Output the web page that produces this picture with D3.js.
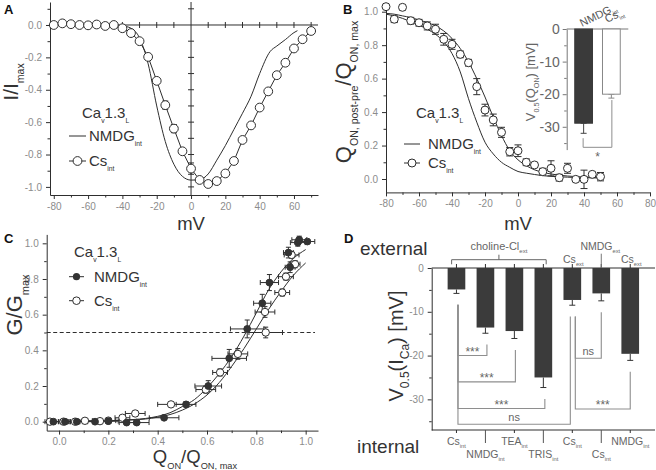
<!DOCTYPE html>
<html>
<head>
<meta charset="utf-8">
<script src="https://cdn.jsdelivr.net/npm/d3@7"></script>
<style>
  body { margin: 0; background: #fff; }
</style>
</head>
<body>
<div id="chart"></div>
<script>
// ---------------- data ----------------
// A: normalised I-V, Cs internal (circles) and NMDG internal (fit line)
const aVolt = [-80,-75,-70,-65,-60,-55,-50,-45,-40,-35,-30,-25,-20,-15,-10,-5,0,5,10,15,20,25,30,35,40,45,50,55,60,65,70];
const aCs = [0.0,0.01,0.005,0.0,-0.002,0.003,-0.006,0.0,-0.02,-0.05,-0.10,-0.197,-0.345,-0.495,-0.64,-0.78,-0.887,-0.957,-0.982,-0.964,-0.917,-0.84,-0.71,-0.62,-0.51,-0.41,-0.31,-0.233,-0.145,-0.088,-0.037];
const aCsErr = [0,0,0,0,0,0,0,0,0,0.005,0.01,0.01,0.015,0.025,0.025,0.015,0.035,0.012,0.01,0.01,0.008,0.008,0.01,0.01,0.01,0.01,0.008,0.008,0.008,0.006,0.006];
const aFitV = [-82,-45,-40,-35,-30,-25,-20,-15,-10,-5,0,5,10,15,20,25,30,35,40,46,50,55,60,62];
const aFitNmdg = [0,0,-0.005,-0.02,-0.08,-0.24,-0.50,-0.72,-0.86,-0.935,-0.958,-0.955,-0.92,-0.835,-0.745,-0.645,-0.545,-0.44,-0.30,-0.165,-0.13,-0.09,-0.047,-0.035];
const aXTicks = [-80,-60,-40,-20,0,20,40,60];
const aXMinor = [-70,-50,-30,-10,10,30,50,70];
const aYTicks = [-1.0,-0.8,-0.6,-0.4,-0.2,0.0];
const aYMinor = [-0.9,-0.7,-0.5,-0.3,-0.1,0.1];

// B: charge-voltage, Cs internal data + two fits; inset V0.5(Q_ON)
const bVolt = [-80,-75,-70,-65,-60,-55,-50,-45,-40,-35,-30,-25,-20,-15,-10,-5,0,5,10,15,20,25,30,35,40,45,50];
const bCs = [1.03,0.955,1.026,0.946,0.934,0.915,0.895,0.835,0.805,0.745,0.695,0.552,0.412,0.353,0.279,0.163,0.169,0.10,0.084,0.044,0.064,0.008,0.064,-0.002,-0.002,0.028,0.014];
const bCsErr = [0.01,0.02,0.015,0.02,0.02,0.024,0.03,0.035,0.03,0.02,0.02,0.048,0.035,0.035,0.03,0.025,0.035,0.02,0.015,0.02,0.045,0.02,0.03,0.01,0.055,0.01,0.025];
const bFitV = [-80,-75,-70,-65,-60,-55,-50,-45,-40,-35,-30,-25,-20,-15,-10,-5,0,5,10,15,20,30,40,50];
const bFitNmdg = [0.985,0.975,0.96,0.94,0.92,0.895,0.865,0.82,0.75,0.64,0.48,0.34,0.22,0.15,0.10,0.07,0.045,0.035,0.027,0.02,0.016,0.011,0.008,0.006];
const bFitCs = [0.99,0.985,0.975,0.965,0.95,0.935,0.915,0.885,0.84,0.78,0.70,0.60,0.49,0.37,0.26,0.17,0.115,0.08,0.055,0.04,0.03,0.018,0.012,0.009];
const bXTicks = [-80,-60,-40,-20,0,20,40,60,80];
const bXMinor = [-70,-50,-30,-10,10,30,50,70];
const bYTicks = [0.0,0.2,0.4,0.6,0.8,1.0];
const bYMinor = [0.1,0.3,0.5,0.7,0.9];
const insetCats = ["NMDG","Cs"];
const insetV = [-28.9,-20.0];
const insetErr = [3.1,1.2];
const insetTicks = [-30,-20,-10,0];
const insetMinor = [-35,-25,-15,-5];

// C: G/Gmax vs Q_ON/Q_ON,max
const cNmdgQ = [-0.023,0.024,0.072,0.146,0.20,0.274,0.315,0.426,0.515,0.605,0.69,0.763,0.824,0.853,0.93,0.937,0.968,0.974,1.007];
const cNmdgG = [0.0,0.0,0.0,0.0,0.003,-0.005,-0.005,0.022,0.097,0.20,0.355,0.52,0.664,0.78,0.948,0.866,1.004,1.02,1.01];
const cNmdgQErr = [0.02,0.02,0.025,0.03,0.04,0.03,0.05,0.06,0.04,0.054,0.07,0.068,0.035,0.037,0.02,0.02,0.03,0.03,0.03];
const cNmdgGErr = [0.005,0.005,0.005,0.005,0.005,0.005,0.005,0.01,0.015,0.03,0.05,0.05,0.05,0.045,0.03,0.03,0.02,0.02,0.01];
const cCsQ = [-0.037,0.018,0.065,0.105,0.166,0.20,0.257,0.309,0.454,0.595,0.653,0.725,0.838,0.835,0.905,0.92,0.957,0.943];
const cCsG = [0.0,0.0,0.0,0.005,0.003,0.006,0.022,0.046,0.097,0.18,0.276,0.38,0.50,0.615,0.724,0.813,0.883,0.935];
const cCsQErr = [0.02,0.02,0.02,0.03,0.03,0.03,0.03,0.04,0.054,0.04,0.03,0.04,0.068,0.04,0.03,0.03,0.02,0.03];
const cCsGErr = [0.005,0.005,0.005,0.005,0.005,0.005,0.01,0.01,0.01,0.02,0.02,0.03,0.03,0.03,0.02,0.02,0.02,0.02];
const cFitQ = [-0.03,0.1,0.2,0.3,0.35,0.4,0.45,0.5,0.55,0.6,0.65,0.7,0.75,0.8,0.85,0.9,0.95,1.0];
const cFitNmdg = [0,0.002,0.005,0.012,0.018,0.03,0.05,0.085,0.125,0.19,0.27,0.365,0.48,0.61,0.74,0.84,0.915,0.965];
const cFitCs = [0,0.002,0.004,0.01,0.015,0.025,0.04,0.065,0.10,0.15,0.22,0.31,0.41,0.52,0.63,0.73,0.82,0.89];
const cTicks = [0.0,0.2,0.4,0.6,0.8,1.0];
const cMinor = [0.1,0.3,0.5,0.7,0.9];
const cHalf = 0.5;

// D: V0.5(I_Ca) for external / internal solutions
const dExternal = ["choline-Cl","choline-Cl","choline-Cl","choline-Cl","Cs","NMDG","Cs"];
const dInternal = ["Cs","NMDG","TEA","TRIS","Cs","Cs","NMDG"];
const dV = [-4.9,-13.6,-14.4,-25.0,-7.3,-5.8,-19.6];
const dErr = [0.9,1.3,1.7,2.3,1.2,1.7,1.5];
const dSigFrom = [0,0,0,0,4,4];
const dSigTo = [1,2,3,4,5,6];
const dSigLevel = [-20.0,-26.0,-32.1,-35.7,-20.6,-32.2];
const dSigText = ["***","***","***","ns","ns","***"];
const dTicks = [-30,-20,-10,0];
const dMinor = [-35,-25,-15,-5];

// ---------------- setup ----------------
const W = 656, H = 470;
const FONT = "'Liberation Sans', Arial, sans-serif";
const INK = "#2e2e2e", TICKTXT = "#8c8c8c", LABEL = "#333", SIG = "#8e8e8e";

const svg = d3.select("#chart").append("svg")
  .attr("width", W).attr("height", H)
  .attr("font-family", FONT);
svg.append("rect").attr("width", W).attr("height", H).attr("fill", "#fff");

const fmt1 = d => d3.format(".1f")(d).replace("\u2212", "-");
const fmt0 = d => String(d);

function axis(g, orient, scale, majors, minors, fmt, tx, ty, o = {}) {
  const mk = orient === "left" ? d3.axisLeft : d3.axisBottom;
  const a = g.append("g").attr("transform", `translate(${tx},${ty})`)
    .call(mk(scale).tickValues(majors).tickSize(o.size || 4).tickSizeOuter(0)
      .tickPadding(o.pad || 4).tickFormat(fmt));
  a.attr("font-family", FONT).attr("font-size", o.fs || 10);
  a.selectAll("text").attr("fill", o.color || TICKTXT);
  a.selectAll("line,path").attr("stroke", o.stroke || INK);
  if (minors) {
    const m = g.append("g").attr("transform", `translate(${tx},${ty})`)
      .call(mk(scale).tickValues(minors).tickSize(o.minor || 2.5).tickFormat(""));
    m.select(".domain").remove();
    m.selectAll("line").attr("stroke", o.stroke || INK);
  }
  return a;
}

// text with subscripts: parts are strings or [sub] arrays
function rich(parent, parts, size, o = {}) {
  const t = parent.append("text")
    .attr("x", o.x || 0).attr("y", o.y || 0)
    .attr("font-size", size)
    .attr("fill", o.fill || LABEL)
    .attr("text-anchor", o.anchor || "start");
  if (o.transform) t.attr("transform", o.transform);
  const ss = o.sub || 0.5;
  let cur = 0;
  parts.forEach(p => {
    const isSub = Array.isArray(p);
    const off = isSub ? size * 0.3 : 0;
    t.append("tspan").attr("dy", off - cur)
      .attr("font-size", isSub ? size * ss : size)
      .text(isSub ? p[0] : p);
    cur = off;
  });
  return t;
}

function vErr(g, x, y1, y2, cap, color) {
  g.append("line").attr("x1", x).attr("x2", x).attr("y1", y1).attr("y2", y2)
    .attr("stroke", color || INK);
  [y1, y2].forEach(y => g.append("line").attr("x1", x - cap).attr("x2", x + cap)
    .attr("y1", y).attr("y2", y).attr("stroke", color || INK));
}
function hErr(g, y, x1, x2, cap) {
  g.append("line").attr("x1", x1).attr("x2", x2).attr("y1", y).attr("y2", y).attr("stroke", INK);
  [x1, x2].forEach(x => g.append("line").attr("x1", x).attr("x2", x)
    .attr("y1", y - cap).attr("y2", y + cap).attr("stroke", INK));
}

function letter(t, x, y) {
  svg.append("text").attr("x", x).attr("y", y).attr("font-size", 13)
    .attr("font-weight", "bold").attr("fill", "#111").text(t);
}

// ---------------- panel A ----------------
{
  const g = svg.append("g");
  const x = d3.scaleLinear().domain([-82.2, 74]).range([50, 318]);
  const y = d3.scaleLinear().domain([-1.05, 0.142]).range([195, 2]);

  axis(g, "left", y, aYTicks, aYMinor, fmt1, 50, 0);
  axis(g, "bottom", x, aXTicks, aXMinor, fmt0, 0, 195);

  // zero lines with crossing ticks
  g.append("line").attr("x1", 50).attr("x2", 318).attr("y1", y(0)).attr("y2", y(0)).attr("stroke", INK);
  g.append("line").attr("x1", x(0)).attr("x2", x(0)).attr("y1", 2).attr("y2", 195).attr("stroke", INK);
  aXTicks.concat(aXMinor).filter(v => v !== 0).forEach(v =>
    g.append("line").attr("x1", x(v)).attr("x2", x(v)).attr("y1", y(0) - 3).attr("y2", y(0) + 3).attr("stroke", INK));
  aYTicks.concat(aYMinor).filter(v => v !== 0).forEach(v =>
    g.append("line").attr("x1", x(0) - 3).attr("x2", x(0) + 3).attr("y1", y(v)).attr("y2", y(v)).attr("stroke", INK));

  // NMDG fit
  g.append("path").datum(aFitV.map((v, i) => [v, aFitNmdg[i]]))
    .attr("fill", "none").attr("stroke", INK).attr("stroke-width", 1)
    .attr("d", d3.line().x(d => x(d[0])).y(d => y(d[1])).curve(d3.curveMonotoneX));

  // Cs data
  const pts = aVolt.map((v, i) => ({ v, i: aCs[i], e: aCsErr[i] }));
  g.append("path").datum(pts).attr("fill", "none").attr("stroke", INK)
    .attr("d", d3.line().x(d => x(d.v)).y(d => y(d.i)));
  pts.filter(d => d.e > 0.012).forEach(d => vErr(g, x(d.v), y(d.i + d.e), y(d.i - d.e), 3));
  g.selectAll(".ca").data(pts).join("circle").attr("class", "ca")
    .attr("cx", d => x(d.v)).attr("cy", d => y(d.i)).attr("r", 4.4)
    .attr("fill", "#fff").attr("stroke", INK);

  // legend
  rich(g, ["Ca", ["v"], "1.3", ["L"]], 15, { x: 82, y: 118, sub: 0.45 });
  g.append("line").attr("x1", 69).attr("x2", 86).attr("y1", 136).attr("y2", 136).attr("stroke", INK);
  rich(g, ["NMDG", ["int"]], 15, { x: 89, y: 141, sub: 0.45 });
  g.append("line").attr("x1", 69).attr("x2", 86).attr("y1", 161).attr("y2", 161).attr("stroke", INK);
  g.append("circle").attr("cx", 77.5).attr("cy", 161).attr("r", 4.4).attr("fill", "#fff").attr("stroke", INK);
  rich(g, ["Cs", ["int"]], 15, { x: 89, y: 166, sub: 0.45 });

  rich(g, ["I/I", ["max"]], 21, { anchor: "middle", transform: "translate(18,82) rotate(-90)", sub: 0.5 });
  g.append("text").attr("x", x(0)).attr("y", 229.5).attr("text-anchor", "middle")
    .attr("font-size", 18.5).attr("fill", LABEL).text("mV");
  letter("A", 4, 14);
}

// ---------------- panel B ----------------
{
  const g = svg.append("g");
  const x = d3.scaleLinear().domain([-80, 80]).range([386, 650]);
  const y = d3.scaleLinear().domain([-0.08, 1.04]).range([192.4, 5]);

  axis(g, "left", y, bYTicks, bYMinor, fmt1, 386, 0);
  axis(g, "bottom", x, bXTicks, bXMinor, fmt0, 0, 192.4);

  const line = d3.line().x(d => x(d[0])).y(d => y(d[1])).curve(d3.curveMonotoneX);
  g.append("path").datum(bFitV.map((v, i) => [v, bFitNmdg[i]]))
    .attr("fill", "none").attr("stroke", INK).attr("d", line);
  g.append("path").datum(bFitV.map((v, i) => [v, bFitCs[i]]))
    .attr("fill", "none").attr("stroke", INK).attr("d", line);

  const pts = bVolt.map((v, i) => ({ v, q: bCs[i], e: bCsErr[i] }));
  pts.forEach(d => vErr(g, x(d.v), y(d.q + d.e), y(d.q - d.e), 3.5));
  g.selectAll(".cb").data(pts).join("circle").attr("class", "cb")
    .attr("cx", d => x(d.v)).attr("cy", d => y(d.q)).attr("r", 4)
    .attr("fill", "#fff").attr("stroke", INK);

  // legend
  rich(g, ["Ca", ["v"], "1.3", ["L"]], 15, { x: 416, y: 118, sub: 0.45 });
  g.append("line").attr("x1", 404).attr("x2", 420).attr("y1", 144).attr("y2", 144).attr("stroke", INK);
  rich(g, ["NMDG", ["int"]], 15, { x: 428, y: 149, sub: 0.45 });
  g.append("line").attr("x1", 404).attr("x2", 420).attr("y1", 163).attr("y2", 163).attr("stroke", INK);
  g.append("circle").attr("cx", 412).attr("cy", 163).attr("r", 4).attr("fill", "#fff").attr("stroke", INK);
  rich(g, ["Cs", ["int"]], 15, { x: 428, y: 168, sub: 0.45 });

  rich(g, ["Q", ["ON, post-pre"], "/Q", ["ON, max"]], 22,
    { anchor: "middle", transform: "translate(351,92) rotate(-90)", sub: 0.48 });
  g.append("text").attr("x", x(0)).attr("y", 229.5).attr("text-anchor", "middle")
    .attr("font-size", 18.5).attr("fill", LABEL).text("mV");
  letter("B", 343, 14);

  // inset
  const ix = d3.scaleBand().domain(insetCats).range([566.7, 628.3]).paddingInner(0.36).paddingOuter(0.29);
  const iy = d3.scaleLinear().domain([-37, 0]).range([149.6, 29]);
  axis(g, "left", iy, insetTicks, insetMinor, fmt0, 566.7, 0,
    { fs: 14, color: "#666", stroke: "#777", size: 4, pad: 3 });
  g.append("line").attr("x1", 566.7).attr("x2", 628.3).attr("y1", iy(0)).attr("y2", iy(0)).attr("stroke", "#777");
  insetCats.forEach((c, i) => {
    const cx = ix(c) + ix.bandwidth() / 2;
    vErr(g, cx, iy(insetV[i]), iy(insetV[i] - insetErr[i]), 3, i === 0 ? "#444" : "#888");
    g.append("rect").attr("x", ix(c)).attr("width", ix.bandwidth())
      .attr("y", iy(0)).attr("height", iy(insetV[i]) - iy(0))
      .attr("fill", i === 0 ? "#3a3a3a" : "#fff").attr("stroke", i === 0 ? "#3a3a3a" : "#888");
  });
  const c0 = ix("NMDG") + ix.bandwidth() / 2 - 0.5, c1 = ix("Cs") + ix.bandwidth() / 2 + 0.5;
  g.append("path").attr("fill", "none").attr("stroke", SIG)
    .attr("d", `M${c0},${iy(-33.5)}V${iy(-36.3)}H${c1}V${iy(-21.8)}`);
  g.append("text").attr("x", (c0 + c1) / 2).attr("y", 161).attr("text-anchor", "middle")
    .attr("font-size", 12).attr("fill", "#666").text("*");
  rich(g, ["NMDG", ["int"]], 11, { x: 582, y: 27, fill: "#555", transform: "rotate(-26,582,27)", sub: 0.5 });
  rich(g, ["Cs", ["int"]], 11, { x: 607, y: 23, fill: "#555", transform: "rotate(-26,607,23)", sub: 0.5 });
  rich(g, ["V", ["0.5"], "(Q", ["ON"], ") [mV]"], 13,
    { anchor: "middle", fill: "#666", transform: "translate(535,82) rotate(-90)", sub: 0.55 });
}

// ---------------- panel C ----------------
{
  const g = svg.append("g");
  const x = d3.scaleLinear().domain([-0.05, 1.05]).range([46.7, 318]);
  const y = d3.scaleLinear().domain([-0.05, 1.05]).range([430.6, 234.4]);

  axis(g, "left", y, cTicks, cMinor, fmt1, 46.7, 0);
  axis(g, "bottom", x, cTicks, cMinor, fmt1, 0, 430.6, { pad: 3 });

  g.append("line").attr("x1", 46.7).attr("x2", 315).attr("y1", y(cHalf)).attr("y2", y(cHalf))
    .attr("stroke", INK).attr("stroke-dasharray", "4,2.5");

  const line = d3.line().x(d => x(d[0])).y(d => y(d[1])).curve(d3.curveMonotoneX);
  g.append("path").datum(cFitQ.map((q, i) => [q, cFitNmdg[i]]))
    .attr("fill", "none").attr("stroke", INK).attr("d", line);
  g.append("path").datum(cFitQ.map((q, i) => [q, cFitCs[i]]))
    .attr("fill", "none").attr("stroke", INK).attr("d", line);

  const cs = cCsQ.map((q, i) => ({ q, gv: cCsG[i], qe: cCsQErr[i], ge: cCsGErr[i] }));
  const nm = cNmdgQ.map((q, i) => ({ q, gv: cNmdgG[i], qe: cNmdgQErr[i], ge: cNmdgGErr[i] }));
  cs.concat(nm).forEach(d => {
    hErr(g, y(d.gv), x(d.q - d.qe), x(d.q + d.qe), 2.5);
    if (d.ge > 0.008) vErr(g, x(d.q), y(d.gv + d.ge), y(d.gv - d.ge), 2.5);
  });
  g.selectAll(".co").data(cs).join("circle").attr("class", "co")
    .attr("cx", d => x(d.q)).attr("cy", d => y(d.gv)).attr("r", 3.7)
    .attr("fill", "#fff").attr("stroke", INK);
  g.selectAll(".cf").data(nm).join("circle").attr("class", "cf")
    .attr("cx", d => x(d.q)).attr("cy", d => y(d.gv)).attr("r", 3.4)
    .attr("fill", "#333").attr("stroke", "#333");

  // legend
  rich(g, ["Ca", ["v"], "1.3", ["L"]], 15, { x: 74, y: 257, sub: 0.45 });
  g.append("line").attr("x1", 69).attr("x2", 84).attr("y1", 276.7).attr("y2", 276.7).attr("stroke", INK);
  g.append("circle").attr("cx", 76.5).attr("cy", 276.7).attr("r", 3.6).attr("fill", "#333");
  rich(g, ["NMDG", ["int"]], 15, { x: 94, y: 282, sub: 0.45 });
  g.append("line").attr("x1", 69).attr("x2", 84).attr("y1", 300.7).attr("y2", 300.7).attr("stroke", INK);
  g.append("circle").attr("cx", 76.5).attr("cy", 300.7).attr("r", 3.8).attr("fill", "#fff").attr("stroke", INK);
  rich(g, ["Cs", ["int"]], 15, { x: 94, y: 306, sub: 0.45 });

  rich(g, ["G/G", ["max"]], 22, { anchor: "middle", transform: "translate(22,305) rotate(-90)", sub: 0.5 });
  rich(g, ["Q", ["ON"], "/Q", ["ON, max"]], 18.5, { anchor: "middle", x: 195, y: 463, sub: 0.5 });
  letter("C", 4, 243);
}

// ---------------- panel D ----------------
{
  const g = svg.append("g");
  const idx = d3.range(dV.length);
  const x = d3.scaleBand().domain(idx).range([431.7, 655]).paddingInner(0.39).paddingOuter(0.55);
  const y = d3.scaleLinear().domain([-37, 0]).range([430, 268]);
  const cx = i => x(i) + x.bandwidth() / 2;

  axis(g, "left", y, dTicks, dMinor, fmt0, 431.7, 0, { size: 4 });
  g.append("line").attr("x1", 431.7).attr("x2", 655).attr("y1", y(0)).attr("y2", y(0)).attr("stroke", INK);
  g.append("line").attr("x1", 431.7).attr("x2", 655).attr("y1", 430).attr("y2", 430).attr("stroke", INK);

  idx.forEach(i => {
    g.append("line").attr("x1", cx(i)).attr("x2", cx(i)).attr("y1", y(0) - 4).attr("y2", y(0)).attr("stroke", INK);
    g.append("line").attr("x1", cx(i)).attr("x2", cx(i)).attr("y1", 430)
      .attr("y2", i % 2 ? 443 : 433).attr("stroke", i % 2 ? "#555" : INK);
    g.append("line").attr("x1", cx(i)).attr("x2", cx(i)).attr("y1", y(dV[i])).attr("y2", y(dV[i] - dErr[i])).attr("stroke", "#333");
    g.append("line").attr("x1", cx(i) - 3).attr("x2", cx(i) + 3).attr("y1", y(dV[i] - dErr[i])).attr("y2", y(dV[i] - dErr[i])).attr("stroke", "#333");
  });
  g.selectAll(".bd").data(idx).join("rect").attr("class", "bd")
    .attr("x", i => x(i)).attr("width", x.bandwidth())
    .attr("y", y(0)).attr("height", i => y(dV[i]) - y(0))
    .attr("fill", "#3b3b3b");

  // significance brackets
  const sigDx = [[1.5, 1.5], [1.5, 1], [1.5, 1.5], [1.5, -2], [3, 0], [3, 0]];
  const lineTop = i => y(dV[i] - dErr[i] - 2.6);
  dSigFrom.forEach((a, k) => {
    const b = dSigTo[k];
    const xa = cx(a) + sigDx[k][0], xb = cx(b) + sigDx[k][1], yl = y(dSigLevel[k]);
    g.append("path").attr("fill", "none").attr("stroke", SIG).attr("stroke-width", 1.1)
      .attr("d", `M${xa},${lineTop(a)}V${yl}H${xb}V${lineTop(b)}`);
    g.append("text").attr("x", (xa + xb) / 2).attr("y", yl - (dSigText[k] === "ns" ? 3 : 0))
      .attr("text-anchor", "middle").attr("font-size", dSigText[k] === "ns" ? 11 : 12)
      .attr("fill", "#666").text(dSigText[k]);
  });

  // external labels
  const grp = idx.filter(i => dExternal[i] === "choline-Cl");
  const gx0 = x(grp[0]) + 4, gx1 = x(grp[grp.length - 1]) + x.bandwidth() - 6;
  g.append("path").attr("fill", "none").attr("stroke", "#666")
    .attr("d", `M${gx0},264.3V259.7H${gx1}V264.3M${(gx0 + gx1) / 2},259.7V254.7`);
  rich(g, ["choline-Cl", ["ext"]], 11, { x: (gx0 + gx1) / 2, y: 250, anchor: "middle", fill: "#666", sub: 0.55 });
  idx.filter(i => dExternal[i] !== "choline-Cl").forEach(i => {
    const isN = dExternal[i] === "NMDG";
    rich(g, [dExternal[i], ["ext"]], 10.5, { x: cx(i) + (isN ? -1 : 1), y: isN ? 249.5 : 262.5, anchor: "middle", fill: "#666", sub: 0.55 });
    if (isN) g.append("line").attr("x1", cx(i)).attr("x2", cx(i)).attr("y1", 253.7).attr("y2", y(0)).attr("stroke", "#777");
  });
  // internal labels
  idx.forEach(i => {
    rich(g, [dInternal[i], ["int"]], 10.5, { x: cx(i), y: i % 2 ? 458 : 444.5, anchor: "middle", fill: "#666", sub: 0.55 });
  });

  g.append("text").attr("x", 360).attr("y", 255).attr("font-size", 19).attr("fill", LABEL).text("external");
  g.append("text").attr("x", 357).attr("y", 453).attr("font-size", 19).attr("fill", LABEL).text("internal");
  rich(g, ["V", ["0.5"], "(I", ["Ca"], ") [mV]"], 20,
    { anchor: "middle", transform: "translate(403,346) rotate(-90)", sub: 0.6 });
  letter("D", 344, 243);
}
</script>
</body>
</html>
